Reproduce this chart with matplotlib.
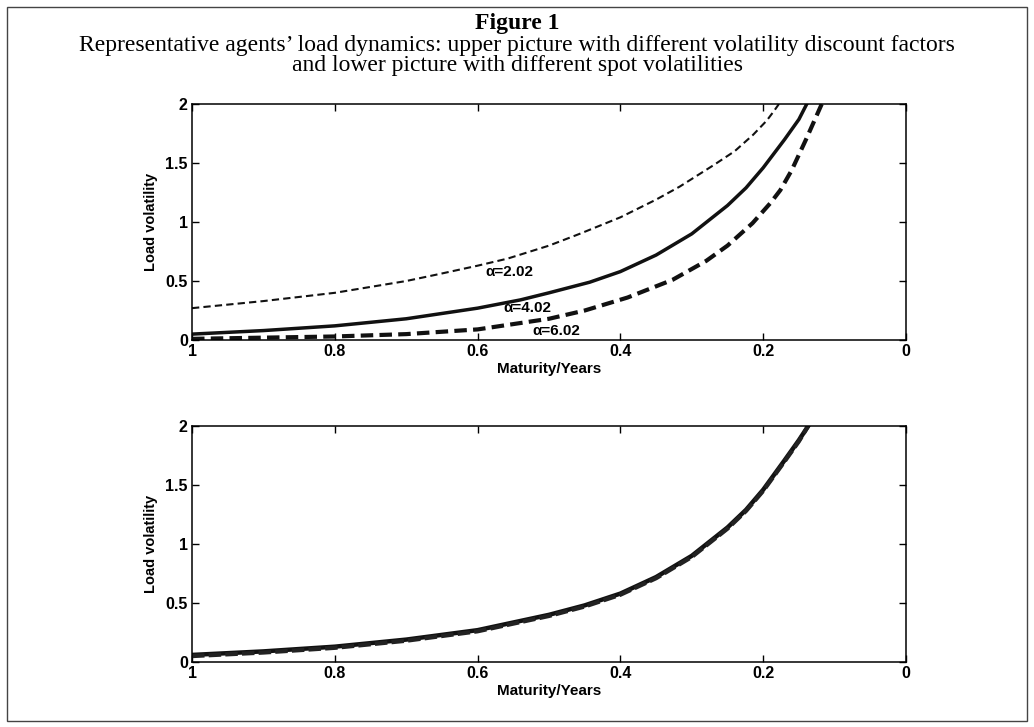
import numpy as np
import matplotlib
matplotlib.use("Agg")
import matplotlib.pyplot as plt
from matplotlib.patches import Rectangle

# valores (maturidade em anos -> volatilidade da carga)
mat_a2 = [1.0, 0.9, 0.8, 0.7, 0.653, 0.6, 0.558, 0.5, 0.457, 0.4, 0.35, 0.317, 0.27, 0.24, 0.214, 0.195, 0.185, 0.178]
vol_a2 = [0.27, 0.33, 0.40, 0.50, 0.56, 0.63, 0.69, 0.80, 0.90, 1.04, 1.19, 1.30, 1.48, 1.60, 1.74, 1.86, 1.94, 2.0]

mat_a4 = [1.0, 0.9, 0.8, 0.7, 0.6, 0.54, 0.5, 0.443, 0.4, 0.35, 0.3, 0.25, 0.224, 0.2, 0.17, 0.15, 0.139]
vol_a4 = [0.05, 0.08, 0.12, 0.18, 0.27, 0.34, 0.40, 0.49, 0.58, 0.72, 0.90, 1.14, 1.29, 1.46, 1.70, 1.87, 2.0]

mat_a6 = [1.0, 0.9, 0.8, 0.7, 0.6, 0.5, 0.45, 0.39, 0.327, 0.28, 0.25, 0.215, 0.19, 0.176, 0.16, 0.14, 0.118]
vol_a6 = [0.01, 0.02, 0.03, 0.05, 0.09, 0.18, 0.25, 0.36, 0.51, 0.67, 0.80, 0.99, 1.16, 1.27, 1.44, 1.70, 2.0]

# figura de baixo: duas volatilidades spot, quase iguais
mat_s1 = [1.0, 0.9, 0.8, 0.7, 0.6, 0.5, 0.45, 0.4, 0.35, 0.3, 0.25, 0.224, 0.2, 0.17, 0.15, 0.137]
vol_s1 = [0.06, 0.09, 0.13, 0.19, 0.27, 0.40, 0.48, 0.58, 0.72, 0.90, 1.14, 1.29, 1.46, 1.71, 1.88, 2.0]
vol_s2 = [0.05, 0.08, 0.12, 0.18, 0.26, 0.39, 0.47, 0.57, 0.71, 0.89, 1.13, 1.28, 1.45, 1.70, 1.87, 2.0]

xticks = [1, 0.8, 0.6, 0.4, 0.2, 0]
xtick_labels = ["1", "0.8", "0.6", "0.4", "0.2", "0"]
yticks = [0, 0.5, 1, 1.5, 2]
ytick_labels = ["0", "0.5", "1", "1.5", "2"]

labels = ["\u03b1=2.02", "\u03b1=4.02", "\u03b1=6.02"]
label_pos = [(0.556, 0.58), (0.53, 0.27), (0.49, 0.075)]

SANS = "Liberation Sans"
SERIF = "Liberation Serif"


def format_axes(ax):
    ax.set_xlim(1, 0)
    ax.set_ylim(0, 2)
    ax.set_xticks(xticks)
    ax.set_xticklabels(xtick_labels)
    ax.set_yticks(yticks)
    ax.set_yticklabels(ytick_labels)
    ax.tick_params(direction="in", length=5, width=1, top=True, right=True,
                   labelsize=11.5, pad=3)
    for lab in ax.get_xticklabels() + ax.get_yticklabels():
        lab.set_fontweight("bold")
        lab.set_fontfamily(SANS)
    for sp in ax.spines.values():
        sp.set_linewidth(1.1)
    ax.set_xlabel("Maturity/Years", fontsize=11, fontweight="bold", family=SANS, labelpad=2)
    ax.set_ylabel("Load volatility", fontsize=10.5, fontweight="bold", family=SANS, labelpad=5)


def main():
    fig = plt.figure(figsize=(10.34, 7.27), dpi=100)

    # moldura em volta de tudo
    fig.patches.append(Rectangle((7 / 1034, 6 / 727), 1020 / 1034, 714 / 727,
                                 transform=fig.transFigure, fill=False,
                                 edgecolor="#444444", linewidth=1.0))

    fig.text(0.5, 1 - 24 / 727, "Figure 1", ha="center", va="center",
             fontsize=17, fontweight="bold", family=SERIF)
    fig.text(0.5, 1 - 45 / 727, "Representative agents\u2019 load dynamics: upper picture with different volatility discount factors",
             ha="center", va="center", fontsize=17, family=SERIF)
    fig.text(0.5, 1 - 66 / 727, "and lower picture with different spot volatilities",
             ha="center", va="center", fontsize=17, family=SERIF)

    ax1 = fig.add_axes([0.1857, 0.5323, 0.6905, 0.3246])
    ax1.plot(mat_a2, vol_a2, color="#111111", lw=1.5, linestyle=(0, (3.5, 2.0)))
    ax1.plot(mat_a4, vol_a4, color="#111111", lw=2.5)
    ax1.plot(mat_a6, vol_a6, color="#111111", lw=3.0, linestyle=(0, (3.0, 1.5)))
    for txt, (x, y) in zip(labels, label_pos):
        ax1.text(x, y, txt, ha="center", va="center", fontsize=11,
                 fontweight="bold", family=SANS)
    format_axes(ax1)

    ax2 = fig.add_axes([0.1857, 0.0894, 0.6905, 0.3246])
    ax2.plot(mat_s1, vol_s1, color="#111111", lw=3.2)
    ax2.plot(mat_s1, vol_s2, color="#222222", lw=3.0, linestyle=(0, (3.0, 1.0)))
    format_axes(ax2)

    fig.savefig("out.png", dpi=100)


if __name__ == "__main__":
    main()
